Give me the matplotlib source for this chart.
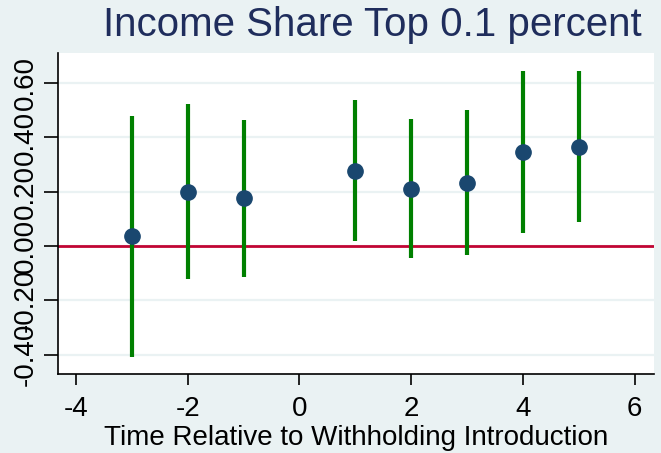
import matplotlib
matplotlib.use("Agg")
import matplotlib.pyplot as plt
import numpy as np

plt.rcParams["font.family"] = ["Liberation Sans", "DejaVu Sans"]

# event-time coefficients with 95% confidence bounds
periods = [-3, -2, -1, 1, 2, 3, 4, 5]
coef = [0.037, 0.200, 0.176, 0.277, 0.212, 0.233, 0.345, 0.366]
ci_low = [-0.408, -0.123, -0.114, 0.017, -0.043, -0.034, 0.047, 0.088]
ci_high = [0.480, 0.523, 0.464, 0.538, 0.468, 0.500, 0.643, 0.645]

x_ticks = [-4, -2, 0, 2, 4, 6]
y_ticks = [-0.4, -0.2, 0.0, 0.2, 0.4, 0.6]
y_ticklabels = ["-0.40", "-0.20", "0.00", "0.20", "0.40", "0.60"]

bg = "#eaf2f3"
navy = "#1a476f"

fig = plt.figure(figsize=(6.61, 4.53), dpi=100, facecolor=bg)
ax = fig.add_axes([0.0877, 0.1744, 0.9013, 0.7086])
ax.set_facecolor("white")

ax.set_xlim(-4.322, 6.34)
ax.set_ylim(-0.471, 0.711)

for yv in y_ticks:
    ax.axhline(yv, color=bg, lw=1.6, zorder=0)

ax.axhline(0, color="#c10534", lw=2, zorder=1)
ax.vlines(periods, ci_low, ci_high, color="#008000", lw=3, zorder=2)
ax.plot(periods, coef, "o", color=navy, ms=11, mec=navy, zorder=3)

ax.set_xticks(x_ticks)
ax.set_xticklabels([str(v) for v in x_ticks], fontsize=20)
ax.set_yticks(y_ticks)
ax.set_yticklabels(y_ticklabels, fontsize=20, rotation=90, va="center")
ax.tick_params(axis="x", length=8, width=1.2, pad=8, colors="black")
ax.tick_params(axis="y", length=10, width=1.2, pad=4, colors="black")

for side in ["top", "right"]:
    ax.spines[side].set_visible(False)
for side in ["left", "bottom"]:
    ax.spines[side].set_color("black")
    ax.spines[side].set_linewidth(1.2)

ax.set_xlabel("Time Relative to Withholding Introduction", fontsize=20, labelpad=2)
fig.text(0.5635, 0.945, "Income Share Top 0.1 percent", fontsize=29,
         color="#1f2d5c", ha="center", va="center")

fig.savefig("out.png", dpi=100, facecolor=bg)
